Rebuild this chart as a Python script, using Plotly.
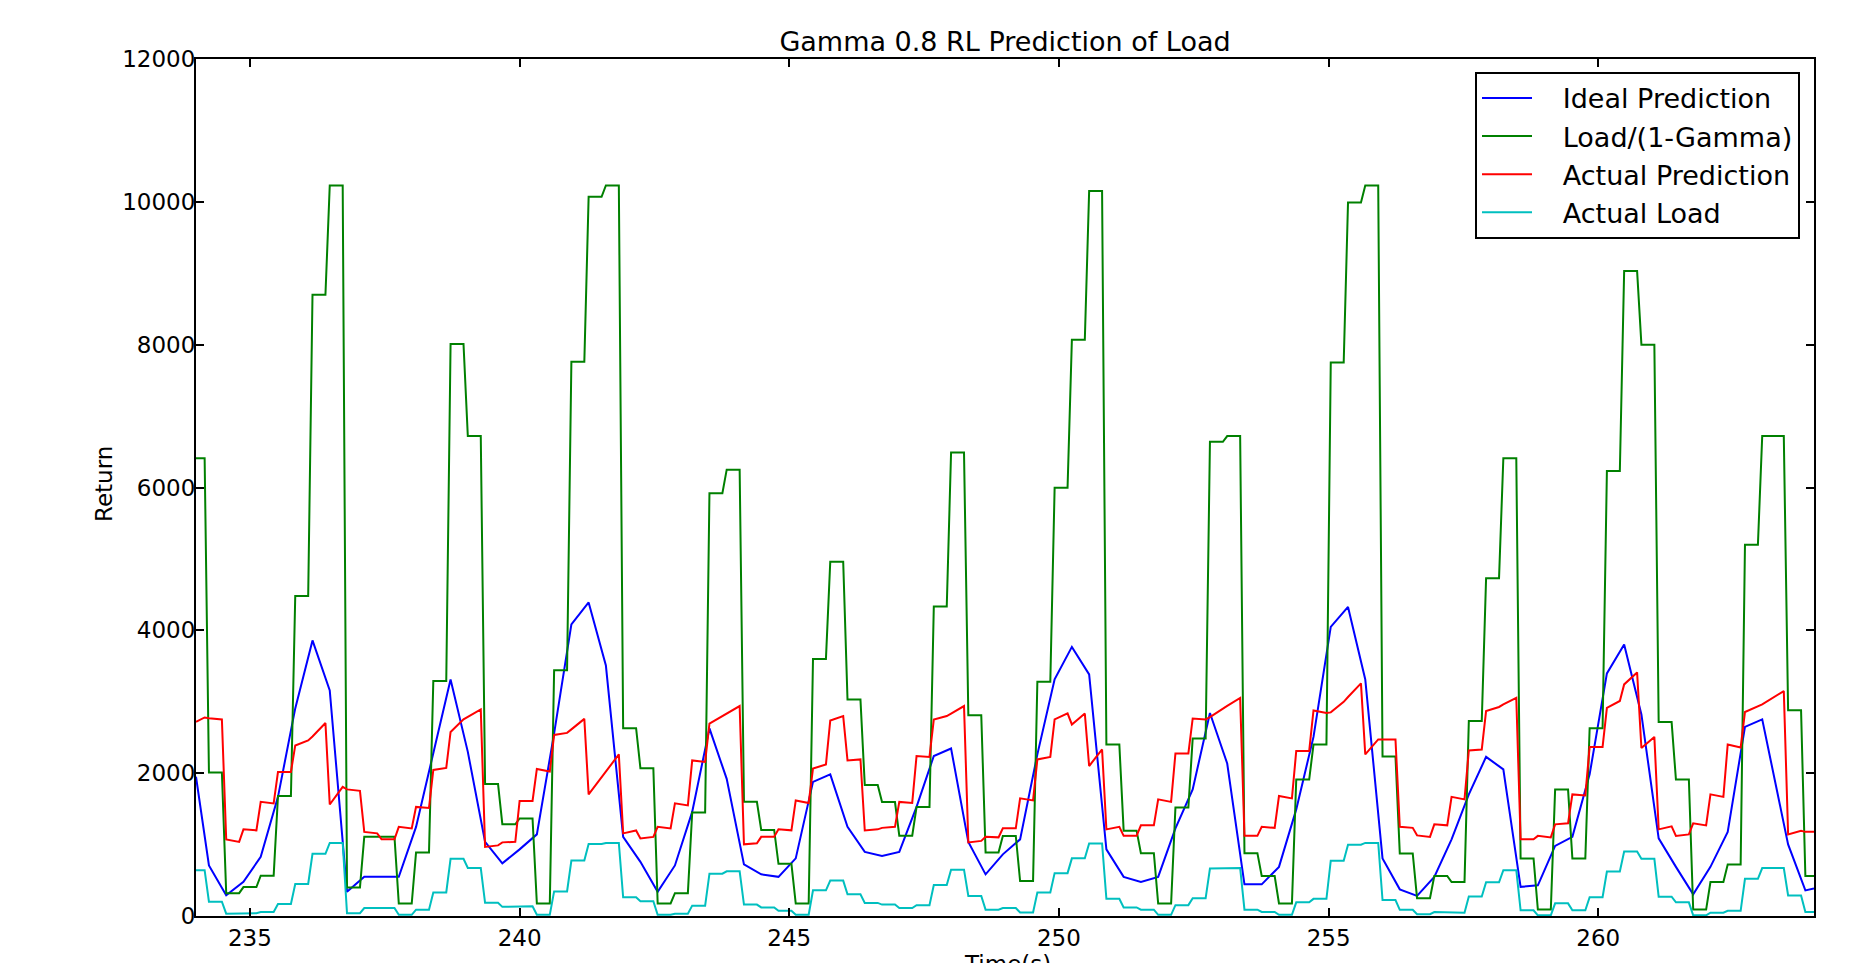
import numpy as np
import plotly.graph_objects as go

# ---------------- data ----------------
DT = 0.08          # sample period (s)
T_FIRST = 234.0    # first visible sample (s)

# number of samples over which each load value is held (first/last blocks are partial)
block_samples = [3] + [4] * 90 + [6, 4, 3]

# Load/(1-Gamma) per block
load_scaled = [6410, 2010, 320, 405, 565, 1680, 4480, 8700, 10230, 400,
               1110, 1110, 175, 890, 3290, 8010, 6720, 1850, 1285, 1365,
               175, 3440, 7760, 10070, 10230, 2630, 2070, 175, 320, 1450,
               5920, 6250, 1600, 1205, 730, 175, 3600, 4960, 3030, 1835,
               1595, 1125, 1525, 4335, 6490, 2810, 890, 1120, 490, 3280,
               5995, 8070, 10150, 2400, 1195, 880, 175, 1520, 2485, 6640,
               6720, 880, 560, 175, 1910, 2400, 7750, 9990, 10230, 2235,
               875, 250, 560, 475, 2730, 4730, 6410, 805, 90, 1770,
               805, 2630, 6230, 9030, 8000, 2715, 1910, 90, 475, 720,
               5200, 6720, 2880, 560]

# Actual load per block
actual_load = [641, 201, 32, 40, 56, 168, 448, 870, 1023, 40,
               111, 111, 17, 89, 329, 801, 672, 185, 128, 136,
               17, 344, 776, 1007, 1023, 263, 207, 17, 32, 145,
               592, 625, 160, 120, 73, 17, 360, 496, 303, 183,
               160, 112, 152, 433, 649, 281, 89, 112, 49, 328,
               600, 807, 1015, 240, 120, 88, 17, 152, 248, 664,
               672, 88, 56, 17, 191, 240, 775, 999, 1023, 223,
               87, 25, 56, 47, 273, 473, 641, 80, 9, 177,
               80, 263, 623, 903, 800, 271, 191, 9, 47, 72,
               520, 672, 288, 56]

# Actual prediction: value at first and last sample of each block
pred_start = [2720, 2770, 1073, 1213, 1598, 2017, 2388, 2513, 1561, 1773,
              1178, 1073, 1248, 1528, 2045, 2577, 2788, 968, 1031, 1611,
              2059, 2536, 2613, 1703, 2025, 1157, 1087, 1248, 1577, 2178,
              2695, 2835, 1003, 1108, 1213, 1618, 2066, 2738, 2178, 1198,
              1234, 1598, 2241, 2752, 2835, 1031, 1108, 1227, 1647, 2192,
              2752, 2682, 2100, 1213, 1122, 1269, 1633, 2276, 2766, 2786,
              2941, 1122, 1248, 1680, 2310, 2878, 2851, 3067, 2262, 2473,
              1248, 1129, 1283, 1668, 2318, 2871, 2962, 1073, 1122, 1283,
              1703, 2367, 2913, 3243, 2353, 1213, 1122, 1297, 1703, 2402,
              2857, 2962, 1143, 1178]
pred_end = [2780, 2752, 1038, 1199, 1577, 2017, 2458, 2703, 1808, 1752,
            1157, 1073, 1227, 1514, 2073, 2753, 2893, 989, 1038, 1611,
            2024, 2564, 2760, 1948, 2263, 1198, 1108, 1227, 1549, 2157,
            2800, 2940, 1017, 1108, 1199, 1583, 2122, 2800, 2192, 1213,
            1248, 1583, 2227, 2800, 2940, 1052, 1101, 1227, 1619, 2227,
            2836, 2836, 2332, 1248, 1122, 1269, 1598, 2276, 2752, 2906,
            3053, 1122, 1234, 1647, 2310, 2843, 2998, 3257, 2473, 2473,
            1234, 1108, 1269, 1633, 2332, 2927, 3053, 1073, 1101, 1297,
            1689, 2367, 3011, 3411, 2508, 1255, 1143, 1269, 1668, 2360,
            2941, 3150, 1192, 1178]

# Ideal prediction at the first sample of each block, plus the final sample
ideal = [1950, 708, 289, 478, 828, 1668, 2907, 3859, 3159, 338,
         548, 548, 548, 1248, 2298, 3313, 2298, 1038, 737, 933,
         1143, 2557, 4083, 4390, 3507, 1108, 758, 338, 708, 1458,
         2627, 1920, 723, 583, 548, 807, 1878, 1983, 1248, 898,
         842, 898, 1528, 2241, 2346, 1038, 583, 863, 1073, 2263,
         3313, 3768, 3383, 933, 548, 478, 548, 1227, 1773, 2843,
         2135, 443, 443, 688, 1493, 2508, 4048, 4328, 3313, 807,
         373, 282, 548, 1073, 1703, 2228, 2053, 408, 429, 982,
         1108, 1983, 3397, 3803, 2823, 1087, 688, 303, 688, 1178,
         2648, 2753, 1003, 359]
ideal_last = 387

series_names = ["Ideal Prediction", "Load/(1-Gamma)", "Actual Prediction", "Actual Load"]
x_ticks = [235, 240, 245, 250, 255, 260]
y_ticks = [0, 2000, 4000, 6000, 8000, 10000, 12000]

# ---------------- build sample-time series ----------------
nb = np.array(block_samples)
start_idx = np.concatenate([[0], np.cumsum(nb)[:-1]])
t_start = T_FIRST + DT * start_idx
t_end = t_start + DT * (nb - 1)

x_blocks = np.column_stack([t_start, t_end]).ravel()
y_green = np.repeat(load_scaled, 2)
y_cyan = np.repeat(actual_load, 2)
y_red = np.column_stack([pred_start, pred_end]).ravel()
x_blue = np.append(t_start, t_end[-1])
y_blue = np.append(ideal, ideal_last)

GAP = "\u00a0\u00a0\u00a0"   # spacing between legend line sample and label

fig = go.Figure()
fig.add_trace(go.Scatter(x=x_blue, y=y_blue, mode="lines", name=GAP + series_names[0],
                         line=dict(color="#0000ff", width=2)))
fig.add_trace(go.Scatter(x=x_blocks, y=y_green, mode="lines", name=GAP + series_names[1],
                         line=dict(color="#008000", width=2)))
fig.add_trace(go.Scatter(x=x_blocks, y=y_red, mode="lines", name=GAP + series_names[2],
                         line=dict(color="#ff0000", width=2)))
fig.add_trace(go.Scatter(x=x_blocks, y=y_cyan, mode="lines", name=GAP + series_names[3],
                         line=dict(color="#00bfbf", width=2)))

W, H = 1864, 963
L, R, T, B = 196, 50, 59, 41
pw, ph = W - L - R, H - T - B

axis_common = dict(showgrid=False, zeroline=False, showline=True, linecolor="black",
                   linewidth=2, mirror="ticks", ticks="inside", ticklen=8,
                   tickwidth=1.5, tickcolor="black",
                   tickfont=dict(family="DejaVu Sans", size=23, color="black"))

fig.update_layout(
    width=W, height=H,
    margin=dict(l=L, r=R, t=T, b=B, pad=0),
    paper_bgcolor="white", plot_bgcolor="white",
    font=dict(family="DejaVu Sans", size=23, color="black"),
    title=dict(text="Gamma 0.8 RL Prediction of Load", x=0.5, xref="paper",
               xanchor="center", y=1 - 41.6 / H, yref="container", yanchor="middle",
               font=dict(family="DejaVu Sans", size=27, color="black")),
    showlegend=True,
    legend=dict(x=(1800 - L) / pw, y=(922 - 72) / ph, xanchor="right", yanchor="top",
                bordercolor="black", borderwidth=2, bgcolor="white",
                font=dict(family="DejaVu Sans", size=27, color="black"),
                tracegroupgap=0, itemwidth=50),
    xaxis=dict(range=[234, 264], tickvals=x_ticks, ticktext=[str(v) for v in x_ticks],
               **axis_common),
    yaxis=dict(range=[0, 12000], tickvals=y_ticks, ticktext=[str(v) for v in y_ticks],
               ticklabelstandoff=-6, **axis_common),
    annotations=[
        dict(text="Return", xref="paper", yref="paper", x=(104 - L) / pw,
             y=(922 - 487) / ph, xanchor="center", yanchor="middle", textangle=-90,
             showarrow=False, font=dict(family="DejaVu Sans", size=23, color="black")),
        dict(text="Time(s)", xref="paper", yref="paper", x=(1007 - L) / pw,
             y=(922 - 955) / ph, xanchor="center", yanchor="top",
             showarrow=False, font=dict(family="DejaVu Sans", size=23, color="black")),
    ],
)

fig.write_html("out.html",
               config={"displayModeBar": False},
               post_script="document.body.style.margin='0';"
                           "document.body.style.overflow='hidden';")
